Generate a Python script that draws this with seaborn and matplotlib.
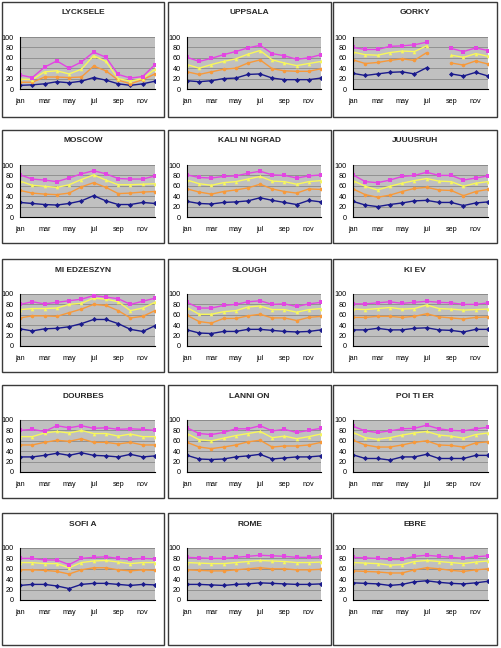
import matplotlib
matplotlib.use("Agg")
import matplotlib.pyplot as plt
from matplotlib.patches import Rectangle
import numpy as np
import pandas as pd
import seaborn as sns

months = ["jan", "feb", "mar", "apr", "may", "jun", "jul", "aug", "sep", "oct", "nov", "dec"]
series_names = ["s1", "s2", "s3", "s4"]
series_colors = ["#1a1a8c", "#f7993a", "#f8f85a", "#e345e3"]
series_markers = ["D", "o", "^", "s"]

stations = ["LYCKSELE", "UPPSALA", "GORKY",
            "MOSCOW", "KALI NI NGRAD", "JUUUSRUH",
            "MI EDZESZYN", "SLOUGH", "KI EV",
            "DOURBES", "LANNI ON", "POI TI ER",
            "SOFI A", "ROME", "EBRE"]

nan = np.nan
# values per station: navy, orange, yellow, magenta
lycksele = [[7, 8, 10, 14, 12, 15, 22, 17, 10, 7, 10, 15],
            [13, 13, 23, 23, 22, 23, 44, 35, 17, 10, 18, 29],
            [19, 18, 33, 35, 29, 38, 64, 53, 20, 15, 20, 38],
            [27, 22, 42, 54, 40, 52, 71, 61, 28, 21, 24, 47]]
uppsala = [[16, 14, 16, 20, 21, 28, 29, 21, 18, 18, 18, 21],
           [33, 28, 33, 38, 40, 50, 56, 39, 35, 34, 34, 39],
           [47, 40, 47, 53, 58, 67, 74, 56, 50, 45, 49, 53],
           [61, 53, 59, 66, 72, 79, 84, 68, 64, 57, 60, 66]]
gorky = [[30, 26, 29, 32, 33, 29, 41, nan, 29, 25, 32, 25],
         [56, 49, 51, 55, 58, 55, 70, nan, 50, 46, 54, 48],
         [71, 66, 65, 70, 73, 72, 83, nan, 65, 61, 68, 63],
         [80, 76, 76, 82, 83, 85, 90, nan, 78, 72, 79, 74]]
moscow = [[28, 26, 24, 23, 26, 31, 41, 31, 24, 24, 28, 26],
          [51, 46, 44, 43, 46, 58, 66, 57, 45, 46, 48, 49],
          [69, 61, 59, 57, 62, 72, 81, 71, 62, 62, 63, 64],
          [81, 73, 71, 68, 75, 83, 89, 83, 74, 73, 73, 79]]
kaliningrad = [[30, 26, 25, 28, 29, 31, 37, 32, 28, 24, 32, 29],
               [54, 48, 44, 49, 52, 56, 63, 54, 49, 46, 54, 53],
               [71, 64, 61, 66, 68, 73, 78, 69, 68, 63, 68, 70],
               [81, 76, 75, 78, 79, 84, 88, 81, 80, 75, 79, 81]]
juuusruh = [[30, 23, 20, 24, 27, 31, 32, 28, 28, 22, 27, 29],
            [54, 43, 38, 42, 49, 55, 57, 52, 51, 41, 49, 53],
            [70, 59, 52, 59, 65, 70, 74, 69, 68, 59, 65, 68],
            [81, 68, 66, 71, 78, 80, 86, 80, 80, 71, 75, 79]]
miedzeszyn = [[33, 29, 33, 34, 37, 43, 51, 51, 43, 32, 28, 39],
              [54, 58, 58, 57, 64, 71, 80, 78, 68, 54, 57, 68],
              [70, 72, 72, 73, 80, 82, 92, 90, 85, 68, 73, 84],
              [80, 85, 81, 84, 87, 90, 97, 94, 91, 80, 86, 92]]
slough = [[31, 25, 24, 28, 28, 32, 32, 30, 28, 27, 28, 31],
          [59, 47, 44, 53, 53, 58, 61, 54, 54, 49, 55, 57],
          [74, 61, 61, 66, 68, 75, 77, 70, 70, 65, 70, 72],
          [84, 73, 73, 78, 80, 85, 87, 80, 81, 76, 81, 84]]
kiev = [[31, 31, 34, 31, 31, 34, 35, 31, 30, 27, 32, 32],
        [55, 55, 57, 57, 55, 57, 62, 56, 54, 52, 55, 56],
        [71, 70, 72, 74, 71, 72, 79, 72, 71, 69, 70, 71],
        [81, 81, 83, 85, 82, 84, 86, 84, 83, 80, 80, 83]]
dourbes = [[29, 29, 32, 36, 32, 37, 32, 31, 29, 34, 29, 31],
           [52, 52, 57, 61, 59, 64, 57, 57, 54, 57, 52, 52],
           [68, 68, 75, 78, 75, 80, 74, 74, 69, 73, 68, 68],
           [80, 82, 78, 89, 85, 89, 84, 85, 82, 83, 82, 80]]
lannion = [[32, 25, 24, 25, 29, 31, 34, 25, 27, 29, 29, 31],
           [57, 48, 45, 48, 52, 58, 61, 48, 50, 50, 52, 57],
           [74, 62, 60, 65, 70, 74, 78, 66, 69, 64, 68, 73],
           [85, 74, 72, 76, 83, 83, 89, 79, 82, 76, 80, 84]]
poitier = [[33, 26, 26, 23, 29, 29, 34, 26, 26, 26, 32, 32],
           [61, 52, 48, 48, 52, 57, 60, 52, 51, 48, 56, 58],
           [76, 66, 63, 66, 71, 75, 78, 71, 69, 65, 72, 75],
           [88, 79, 76, 79, 83, 84, 90, 83, 80, 79, 83, 86]]
sofia = [[28, 30, 30, 27, 22, 30, 32, 32, 30, 28, 30, 29],
         [58, 58, 57, 55, 50, 58, 62, 62, 58, 56, 58, 57],
         [72, 72, 70, 70, 62, 72, 75, 76, 73, 70, 72, 72],
         [80, 80, 77, 77, 68, 80, 82, 83, 80, 78, 80, 79]]
rome = [[30, 30, 29, 28, 30, 31, 33, 32, 31, 30, 30, 31],
        [58, 57, 56, 56, 58, 60, 62, 60, 60, 58, 58, 59],
        [72, 71, 70, 70, 72, 74, 76, 75, 74, 72, 72, 73],
        [82, 81, 80, 80, 82, 84, 86, 85, 84, 82, 82, 83]]
ebre = [[33, 32, 31, 28, 30, 35, 37, 34, 32, 31, 33, 36],
        [56, 55, 54, 52, 52, 58, 62, 60, 57, 55, 58, 60],
        [72, 71, 70, 67, 68, 74, 76, 74, 72, 70, 73, 75],
        [82, 81, 80, 78, 78, 84, 86, 84, 82, 80, 83, 85]]

station_data = [lycksele, uppsala, gorky, moscow, kaliningrad, juuusruh,
                miedzeszyn, slough, kiev, dourbes, lannion, poitier,
                sofia, rome, ebre]

W, H = 501, 648
row_box = [(2, 117), (130, 243), (259, 372), (385, 498), (513, 645)]
col_box = [(2, 164), (168, 331), (333, 497)]
col_plot = [(20, 155), (187, 321), (353, 488)]

sns.set_style("white")
plt.rcParams["font.family"] = ["Liberation Sans", "DejaVu Sans"]

fig = plt.figure(figsize=(W / 100, H / 100), dpi=100)


def long_df(vals):
    rows = []
    for s, name in enumerate(series_names):
        seg = 0
        for m, v in enumerate(vals[s]):
            if np.isnan(v):
                seg += 1
                continue
            rows.append({"m": m, "v": v, "series": name, "unit": f"{name}_{seg}"})
    return pd.DataFrame(rows)


for i, (title, vals) in enumerate(zip(stations, station_data)):
    r, c = divmod(i, 3)
    bt, bb = row_box[r]
    bl, br = col_box[c]
    fig.add_artist(Rectangle((bl / W, 1 - bb / H), (br - bl) / W, (bb - bt) / H,
                             transform=fig.transFigure, fill=False,
                             ec="#3a3a3a", lw=1.0))
    fig.text((bl + br) / 2 / W, 1 - (bt + 11) / H, title, ha="center", va="center",
             fontsize=6, fontweight="bold")

    pl, pr = col_plot[c]
    pt = bt + 35
    pb = pt + 52
    ax = fig.add_axes([pl / W, 1 - pb / H, (pr - pl) / W, (pb - pt) / H])
    ax.set_facecolor("#c0c0c0")

    df = long_df(vals)
    sns.lineplot(data=df, x="m", y="v", hue="series", style="series",
                 units="unit", estimator=None, sort=False,
                 palette=dict(zip(series_names, series_colors)),
                 markers=dict(zip(series_names, series_markers)),
                 dashes=False, markersize=2.6, markeredgewidth=0,
                 linewidth=1.0, legend=False, ax=ax)

    ax.set_xlim(0, 11)
    ax.set_ylim(0, 100)
    ax.set_yticks([0, 20, 40, 60, 80, 100])
    ax.set_yticklabels(["0", "20", "40", "60", "80", "100"])
    ax.set_xticks(range(12))
    ax.set_xticklabels([m if k % 2 == 0 else "" for k, m in enumerate(months)])
    ax.set_xlabel("")
    ax.set_ylabel("")
    ax.grid(axis="y", color="#8a8a8a", lw=0.6)
    ax.set_axisbelow(True)
    for side in ["top", "right"]:
        ax.spines[side].set_visible(False)
    for side in ["left", "bottom"]:
        ax.spines[side].set_color("black")
        ax.spines[side].set_linewidth(0.8)
    ax.tick_params(axis="both", direction="out", length=2.5, width=0.6,
                   labelsize=5.2, colors="black", pad=2)
    ax.tick_params(axis="x", pad=4)
    ax.axhline(100, color="#8a8a8a", lw=0.6, zorder=0.5)

fig.savefig("out.png", dpi=100)
